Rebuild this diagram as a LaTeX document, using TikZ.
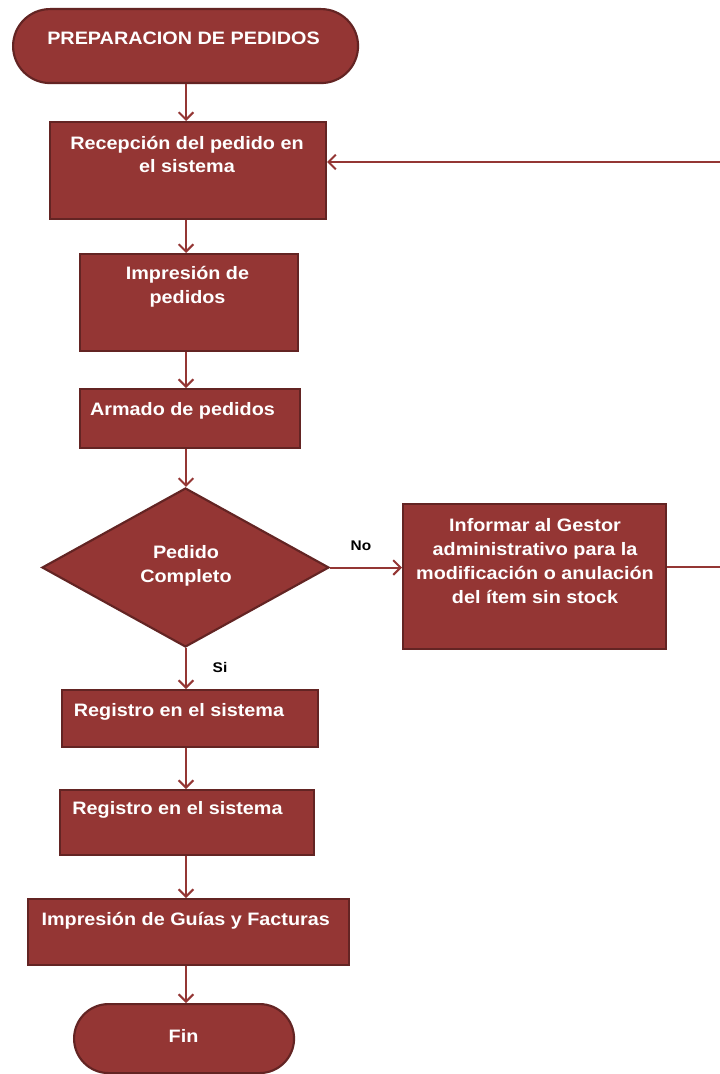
\documentclass[tikz,border=0pt]{standalone}
\usepackage{fontspec}
\setmainfont{Liberation Sans}
\newfontfamily\flowfont[FakeStretch=1.1]{Liberation Sans}
\usetikzlibrary{shapes.geometric,arrows.meta}
\definecolor{boxfill}{HTML}{943634}
\definecolor{boxline}{HTML}{632423}
\definecolor{flowline}{HTML}{943634}
\begin{document}
\begin{tikzpicture}[x=0.75pt,y=-0.75pt,
  shapebase/.style={draw=boxline, fill=boxfill, line width=1.6pt, inner sep=0pt},
  stepbox/.style={shapebase, rectangle, anchor=north west},
  terminal/.style={shapebase, rectangle, anchor=north west},
  decision/.style={shapebase, diamond, aspect=1.8},
  boxtext/.style={text=white, font={\flowfont\bfseries\fontsize{13.5}{18}\selectfont},
    align=center, inner sep=0pt, anchor=base},
  branchtext/.style={text=black, font={\flowfont\bfseries\fontsize{10.5}{12}\selectfont},
    inner sep=0pt, anchor=base},
  flow/.style={draw=flowline, line width=1.5pt,
    -{Straight Barb[length=5.5pt,width=11pt,line width=1.5pt]}}
]
\useasboundingbox[fill=white] (0,0) rectangle (719,1074);

% axis of the main column
\coordinate (spine) at (186,0);

% shapes
\node[terminal, minimum width=345*0.75pt, minimum height=74*0.75pt,
      rounded corners=37*0.75pt] (start) at (12,8) {};
\node[stepbox, minimum width=276*0.75pt, minimum height=97*0.75pt] (recep) at (49,121) {};
\node[stepbox, minimum width=218*0.75pt, minimum height=97*0.75pt] (impr) at (79,253) {};
\node[stepbox, minimum width=220*0.75pt, minimum height=59*0.75pt] (armado) at (79,388) {};
\node[decision, minimum width=287*0.75pt, minimum height=159*0.75pt] (check) at (185.5,567.5) {};
\node[stepbox, minimum width=263*0.75pt, minimum height=145*0.75pt] (info) at (402,503) {};
\node[stepbox, minimum width=256*0.75pt, minimum height=57*0.75pt] (regA) at (61,689) {};
\node[stepbox, minimum width=254*0.75pt, minimum height=65*0.75pt] (regB) at (59,789) {};
\node[stepbox, minimum width=321*0.75pt, minimum height=66*0.75pt] (guias) at (27,898) {};
\node[terminal, minimum width=220*0.75pt, minimum height=69*0.75pt,
      rounded corners=34.5*0.75pt] (fin) at (73,1003) {};

% texts (multi-line texts are placed by the baseline of their last line)
\node[boxtext] (tstart) at (183.5,45) {PREPARACION DE PEDIDOS};
\node[boxtext, font={\flowfont\bfseries\fontsize{13.5}{17}\selectfont}] (trecep) at (187,172)
  {Recepción del pedido en\\el sistema};
\node[boxtext] (timpr) at (187.5,303) {Impresión de\\pedidos};
\node[boxtext] (tarmado) at (182.5,415) {Armado de pedidos};
\node[boxtext] (tcheck) at (186,582) {Pedido\\Completo};
\node[boxtext] (tinfo) at (535,603)
  {Informar al Gestor\\administrativo para la\\modificación o anulación\\del ítem sin stock};
\node[boxtext] (tregA) at (179,716) {Registro en el sistema};
\node[boxtext] (tregB) at (177.5,814) {Registro en el sistema};
\node[boxtext] (tguias) at (185.7,925) {Impresión de Guías y Facturas};
\node[boxtext] (tfin) at (183.5,1042) {Fin};
\node[branchtext] (lno) at (361,550) {No};
\node[branchtext] (lsi) at (220,672) {Si};

% connectors along the main column
\draw[flow] (start.south -| spine) -- (recep.north -| spine);
\draw[flow] (recep.south -| spine) -- (impr.north -| spine);
\draw[flow] (impr.south -| spine) -- (armado.north -| spine);
\draw[flow] (armado.south -| spine) -- (check.north -| spine);
\draw[flow] (check.south -| spine) -- (regA.north -| spine);
\draw[flow] (regA.south -| spine) -- (regB.north -| spine);
\draw[flow] (regB.south -| spine) -- (guias.north -| spine);
\draw[flow] (guias.south -| spine) -- (fin.north -| spine);

% branch to the right and loop back
\draw[flow] (check.east) -- (info.west |- check.east);
\coordinate (loopdown) at (722,567);
\coordinate (loopup) at (722,162);
\draw[flow] (info.east |- loopdown) -- (loopdown) -- (loopup) -- (recep.east |- loopup);
\end{tikzpicture}
\end{document}
